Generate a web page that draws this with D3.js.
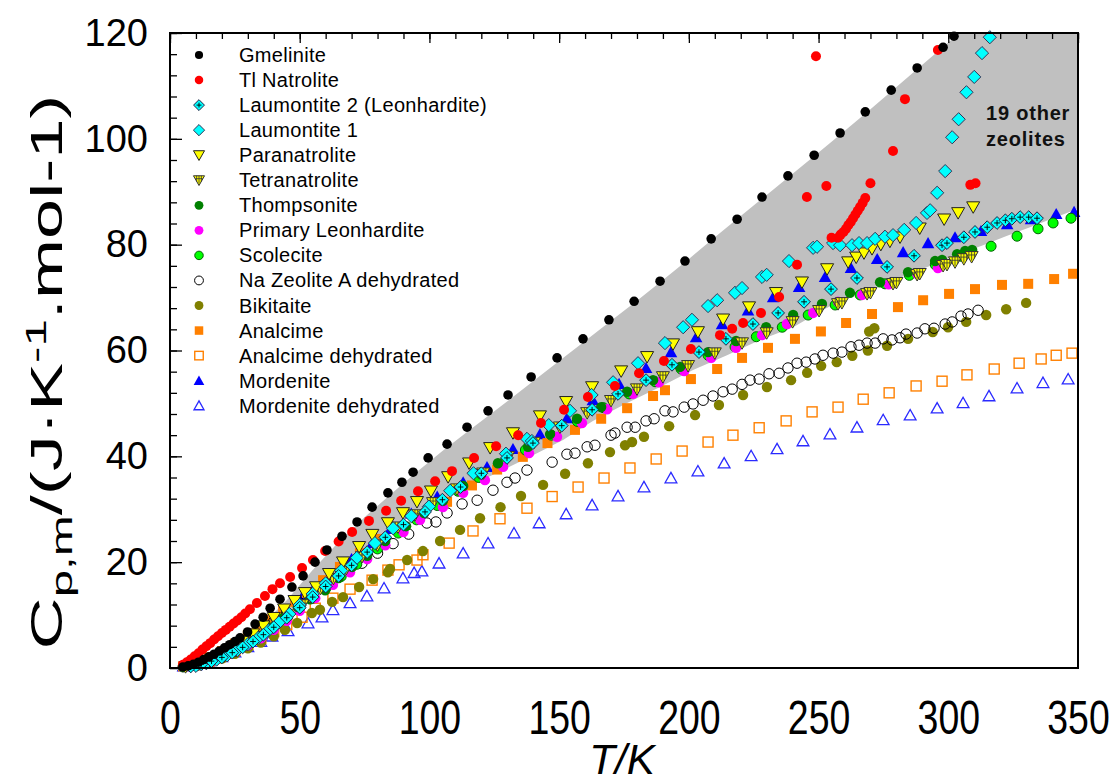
<!DOCTYPE html>
<html>
<head>
<meta charset="utf-8">
<script src="https://cdn.jsdelivr.net/npm/d3@7"></script>
<style>
  body { margin: 0; background: #fff; }
  svg { display: block; font-family: Arial, "Liberation Sans", sans-serif; }
</style>
</head>
<body>
<svg></svg>
<script>
const width = 1119;
const height = 783;
const margin = { top: 33, right: 41, bottom: 115, left: 170 };

// Datos: [T/K, Cp]
const gmelinite = [[5,0.2],[7,0.4],[9,0.7],[11,1.1],[13,1.6],[15,2.1],[17,2.6],[19,3.2],[21,3.8],[23,4.4],[25,5.0],[27,5.7],[29.9,6.8],[32.8,8.3],[35.9,9.6],[38.6,11.3],[42.4,13],[47,15.3],[51.3,17.4],[55.9,20],[60.5,22.3],[66.3,24.9],[72.1,27.6],[77.9,30.4],[84,33.1],[89.4,35.1],[93.7,37],[99.5,39.7],[106.8,42.3],[114.5,45.5],[122.6,48.6],[130.3,51.6],[139.2,55],[149.2,58.6],[159.2,62.2],[169.2,65.8],[178.9,69.3],[188.9,73.1],[198.5,76.9],[208.6,81.1],[218.6,84.8],[228.2,89],[238.2,93],[248.3,96.9],[258.3,101.1],[268,105.1],[278,109.2],[288,113.4],[298,117.3],[302.2,119.4]];
const tlNatrolite = [[5,0.6],[6.5,1.1],[8,1.6],[9.5,2.2],[11,2.8],[12.5,3.5],[14,4.1],[15.5,4.7],[17,5.4],[18.5,6.0],[20,6.6],[21.5,7.2],[23,7.8],[24.5,8.4],[26,9.0],[27.5,9.6],[29,10.3],[30.8,11.1],[33.5,12.3],[36.6,13.6],[39.5,14.9],[42.4,16],[46.3,17.2],[50.9,18.9],[55.1,20.4],[59.8,22.1],[65,23.9],[70.2,25.7],[76.7,27.8],[83.3,29.7],[89.1,31.6],[95.6,33.4],[102.2,35.3],[108.7,37.2],[117.2,39.7],[125.7,41.9],[134.2,44],[143,46.3],[151.9,48.8],[161.1,51.2],[171.5,53.3],[180.8,55.7],[190.4,58],[200.8,60.3],[212,62.9],[216.7,64.1],[220.9,65.2],[227.8,67.1],[234.8,70.1],[241.7,76.2],[245.5,89],[249,115.6],[253,91.1],[255,81.3],[257.5,81.3],[258.5,81.9],[259.6,82.4],[260.6,83],[261.5,83.7],[262.4,84.3],[263.3,85],[264.2,85.7],[265.1,86.4],[266,87.1],[267,87.9],[268,88.8],[270,91.6],[278.7,97.7],[283.3,107.5],[296,116.8],[308.5,91.3],[310.5,91.6]];
const laumontite2 = [[8,0.3],[12,0.7],[16,1.3],[20,2.0],[24,2.9],[28,3.9],[32,5.0],[36,6.3],[40,7.7],[45,9.5],[50,11.4],[55,13.4],[60,15.4],[65,17.4],[70,19.4],[76,21.9],[83,24.7],[90,27.1],[98.3,29.5],[105,31.8],[112,34.2],[120,36.8],[129.9,39.7],[139.9,42.5],[151,45.8],[162.7,48.8],[172.7,51.8],[183.5,54.4],[193.5,57.3],[203.9,59.7],[214.3,62.2],[224.7,65],[234.4,67.1],[244.4,69.2],[254.8,71.6],[264.8,73.7],[276.4,75.8],[286.8,77.9],[297.6,79.9],[299.5,80.3],[306,81.4],[310.3,82.4],[315,83.3],[318.8,84.1],[322,84.6],[324.5,84.9],[327.7,85.2],[331,85.2],[334.2,85]];
const laumontite1 = [[10,0.4],[14,0.9],[18,1.6],[22,2.4],[26,3.4],[30,4.5],[34,5.7],[38,7.1],[42,8.6],[46,10.2],[50,11.9],[55,14],[60,16],[66,18.4],[72,20.8],[79,23.6],[86,26.4],[93,28.7],[99.8,30.5],[108,33.5],[117,36.8],[129.5,40.5],[137.6,43.3],[139.5,42.9],[146,45.9],[154.2,48.6],[162.5,51.6],[170.8,54],[180.4,57.6],[190.8,61.4],[197.8,64.4],[201.2,65.8],[207.4,68.4],[210.9,69.5],[217.8,70.9],[220.5,71.8],[228.2,73.9],[230,74.3],[238.6,76.9],[247.9,79.4],[249.4,79.6],[255.6,80.3],[258.3,79.9],[262.9,79.9],[265.6,80.3],[268.7,80.3],[271.8,81.1],[275.6,81.5],[278.7,81.8],[283,82.8],[287.6,84.1],[291.8,86],[293,86.5],[295.7,89.8],[298.8,93.9],[301.5,100.3],[304,103.7],[307,108.8],[310,111.7],[313,116.2],[316,119.2]];
const paranatrolite = [[8,0.4],[12,0.9],[16,1.6],[20,2.6],[24,3.7],[28,5.0],[32,6.4],[36,7.9],[40,9.5],[44,11.1],[48,12.7],[52,14.2],[56.3,15.3],[61.3,17.8],[66.7,20],[72.9,22.9],[78,25.2],[84,27.4],[89.8,29.3],[95.2,31.4],[100.6,33.4],[107.2,36.1],[115.3,38.7],[123.4,41.6],[132.2,44.4],[142.6,47.6],[152.7,50.3],[162.7,53.1],[173.9,56.1],[183.9,58.8],[193.9,61.2],[203.5,63.5],[213.2,65.9],[223.2,68.2],[233.6,70.9],[243.6,72.9],[253.3,75.4],[261.4,76.7],[264.5,77.6],[267.5,78.4],[270.6,79.2],[274,80],[277.5,80.6],[281.4,81.4],[289,83.1],[298.4,84.8],[303.8,86],[309.6,87.1]];
const tetranatrolite = [[6,0.2],[8,0.35],[10,0.55],[12,0.8],[14,1.1],[16,1.5],[18,1.9],[20,2.4],[22,2.8],[24,3.3],[26,3.8],[28,4.3],[29.7,4.8],[33.5,5.8],[37.3,7],[41.2,8.4],[45.6,10],[51,11.9],[54,13.4],[58,15],[63,16.9],[68,18.8],[74,21],[80,23.2],[87.9,26.6],[94.4,28.9],[101.4,31.2],[110.6,33.8],[120.7,36.8],[130.3,39.9],[140.3,42.6],[150.3,45.5],[160.8,48.2],[170,50.5],[180,52.7],[190,55],[199.7,57.1],[210,59.5],[220.5,61.4],[230,63.3],[240,65.4],[250.2,67.5],[257.5,68.8],[259,69],[268.7,70.7],[270,70.9],[278.7,72.6],[280,72.8],[288,74.3],[289,74.5],[298,76],[299.5,76.2],[302.6,76.7],[306,77.3],[309,77.7]];
const thompsonite = [[5,0.2],[10,0.7],[15,1.5],[20,2.5],[25,3.6],[30,4.8],[33.9,5.9],[38.6,7.6],[43.6,9.4],[49.3,11.5],[54,13],[59.8,14.7],[65,17],[70.2,19.1],[76,21.2],[83,24],[91,26.8],[98,29.3],[105.2,31.6],[113,34.4],[120,36.6],[126.4,38.7],[138,41.8],[146.5,44.2],[156.9,47.1],[166.2,49.3],[176.2,52.2],[186.2,54.4],[196.6,56.9],[207.4,59.7],[218.2,61.8],[229.8,64.4],[240.2,66.7],[251.3,68.8],[262.1,70.9],[273.7,72.9],[284.5,74.8],[294.9,76.9],[297.6,77.1],[303.4,78.2],[306.5,78.8],[309.2,79]];
const primaryLeonhardite = [[5,0.2],[10,0.6],[15,1.3],[20,2.2],[25,3.2],[30,4.3],[35,5.6],[40,7.2],[45,8.9],[50,10.8],[56,13.2],[62.8,15.7],[69.4,18.1],[76,20.6],[83,23.2],[90,25.7],[96.4,28],[105.2,30.4],[113,33.1],[121.4,35.5],[128.4,38],[138.4,40.6],[149.2,43.7],[158.8,46.3],[168.5,48.9],[178.5,51.8],[188.5,54],[198.2,56.1],[208.6,58.6],[218.2,60.5],[228.2,62.9],[237.8,65],[247.9,67.1],[257.5,69.2],[266.8,70.5],[277,72.5],[288,74.5],[296,75.6]];
const scolecite = [[5,0.2],[10,0.6],[15,1.4],[20,2.4],[25,3.5],[30,4.6],[35,6],[40,7.7],[45,9.5],[50,11.3],[55,13.2],[60,15],[66,17.3],[72,19.6],[80,22.5],[88,25.5],[95,28],[103,30.7],[111,33.4],[119,36],[128,38.6],[137,41.2],[147,44],[157,46.6],[167,49.2],[177,51.8],[187,54.1],[197,56.5],[207.4,59.1],[217.8,60.7],[226,62.6],[236,64.4],[246,66.7],[256.4,68.6],[266,70.5],[275.6,72.6],[285,74.2],[295,76.2],[305,77.8],[316.5,79.7],[326.5,81.6],[334.6,83],[340.4,84.1],[347.3,85]];
const naZeoliteA = [[10,0.5],[15,1.2],[20,2.1],[25,3.2],[30,4.4],[35,5.9],[40,8.8],[45,10.5],[50,12.3],[55,14.1],[60,15.9],[66,17.9],[74,19.8],[80,21.7],[86,23.5],[92,25.3],[99,27.4],[102.5,27.6],[106.8,29.3],[112.6,31],[118.4,31.7],[124.5,33.6],[129.9,35.1],[133,35.9],[137.6,37.4],[147.3,38.9],[153,40.4],[156.1,40.6],[160.8,41.8],[163.8,42.1],[170,44],[171.5,44.4],[176.2,45.5],[179.3,45.5],[183.5,46.7],[186.6,47.1],[190.8,48.6],[193.9,48.4],[198.2,49.3],[201.6,49.9],[205.5,50.6],[209.3,51.4],[213.2,52.2],[216.7,52.7],[220.5,53.6],[223.6,54.4],[227.1,54.6],[230.9,55.6],[234.8,55.7],[238.2,56.7],[241.7,57.6],[245.2,57.8],[248.6,58.4],[251.7,59.1],[255.6,59.5],[259,59.7],[262.5,60.7],[265.6,61],[268.7,61.4],[271.8,61.4],[274.9,62.2],[278.3,62],[281.4,62.4],[283.7,63.1],[288,63.3],[291,64.1],[294.5,64.2],[298.8,65],[301.5,65.4],[304.9,66.5],[307.6,66.9],[311.5,67.6]];
const bikitaite = [[10,0.4],[15,1],[20,1.8],[25,2.7],[30,3.7],[35,4.8],[40,6],[44.3,7.2],[49,8.5],[54.7,10.4],[57.8,11],[62.5,12.5],[66.7,13.4],[72.9,15.3],[78.3,16.8],[84,18.1],[84.8,18.7],[91.4,20.4],[97.5,22.1],[104.1,24],[111.8,26.1],[119.5,28.3],[127.4,30.4],[135.3,32.5],[143.8,34.6],[152.3,36.7],[161.1,38.7],[169.6,40.8],[175.4,42.1],[178.1,42.7],[182.7,43.7],[192.4,45.7],[202.4,47.8],[211.6,49.7],[220.9,51.6],[230.1,53.1],[239.4,54.4],[245.6,55.8],[251,57.1],[257,57.8],[263,59],[269.5,63.6],[271.5,64.2],[269,60],[276.4,60.9],[284.5,62.2],[294,63.5],[299.9,64.4],[306.9,65.4],[314.6,66.7],[322.3,67.8],[330,69]];
const analcime = [[5,0.3],[10,1],[15,2],[20,3.2],[25,4.6],[30,6.2],[33.5,7.4],[38,9.2],[43.6,11],[48.2,12.5],[52.8,14.2],[59,16.6],[65.5,19.1],[73.2,21.7],[80.2,24.4],[87,26.5],[95,28.8],[106.8,31.4],[116.4,34.5],[126.1,37.5],[136,39.9],[145.5,42.5],[156.1,45],[166.2,47.1],[176.2,49.1],[186.2,51.4],[190.8,52.5],[200.8,54.6],[210.9,56.5],[220.5,58.6],[230.5,60.5],[240.9,62.2],[250.9,63.6],[260.6,65.2],[270.6,66.9],[280.6,68.2],[290.3,69.5],[300.3,70.7],[310.3,71.6],[320.7,72.4],[330.8,72.6],[340.8,73.5],[348.1,74.5]];
const analcimeDehydrated = [[10,0.6],[15,1.3],[20,2.2],[25,3.3],[30,4.4],[35,5.6],[40,6.9],[45,8.2],[50.9,9.6],[56,11.3],[62.8,13.2],[69.4,14.9],[77.9,16.6],[84,18.5],[88.3,19.5],[95.2,20.4],[97.5,21.4],[107.6,23.6],[116.8,25.9],[127.2,28.2],[137.6,30.2],[147.3,32.4],[157.3,34.2],[167.3,35.9],[177.3,37.8],[187.4,39.5],[197.4,41],[207.4,42.7],[217,44],[227.1,45.4],[237.5,46.7],[247.5,48.4],[257.5,49.3],[267.2,50.8],[277.2,52],[287.6,53.3],[297.6,54.2],[307.2,55.4],[317.7,56.5],[327.3,57.6],[335.8,58.4],[341.6,59.1],[347.7,59.5]];
const mordenite = [[5,0.3],[10,0.9],[15,1.8],[20,2.9],[25,4.1],[30,5.4],[35,6.9],[40,8.5],[45,10.2],[50.9,13.4],[55,14.7],[62,17.6],[70,20.6],[78,23.6],[85,26.3],[93,29.2],[103,32.4],[113,35.1],[122.2,38],[132.2,41.4],[142.6,44.2],[153,47.2],[163,50.6],[173.1,53.7],[183.5,56.7],[193.1,59.7],[202.8,62.5],[212.8,65],[222.8,67.6],[232.5,70.1],[242.5,72],[252.5,73.9],[262.5,75.6],[272.6,77.3],[282.6,78.6],[292.2,80.3],[302.6,81.4],[312.6,82.6],[322.7,83.9],[331.9,84.8],[341.6,85.8],[348.5,86.2]];
const mordeniteDehydrated = [[10,0.6],[15,1.3],[20,2.1],[25,3],[30,4],[35,5],[39.3,6],[45.5,7],[53.2,8.5],[58.6,9.6],[62.8,11],[69.4,12.3],[75.9,13.6],[82.5,15.1],[89.8,17],[94.1,18],[97.1,18.3],[103.7,19.8],[113,21.7],[122.6,23.6],[132.6,25.5],[142.3,27.4],[152.7,29.1],[162.7,30.8],[172.7,32.5],[182.7,34.2],[193.1,35.9],[203.5,37.2],[213.6,38.7],[224,40.1],[234,41.4],[244,42.9],[254.4,44.2],[264.8,45.5],[274.9,46.9],[285.3,47.8],[295.7,49.1],[305.7,50.1],[315.7,51.4],[326.5,52.9],[336.5,53.9],[346.2,54.6]];

// Banda gris "19 other zeolites"
const bandUpper = [[32,6.5],[45,12.8],[55,18.5],[65,23.8],[75,28.5],[85,32.8],[95,37],[105,41],[115,44.8],[125,48.5],[135,52.3],[150,58],[160,61.8],[170,65.6],[180,69.4],[190,73.3],[200,77.3],[210,81.4],[220,85.4],[230,89.4],[240,93.4],[250,97.4],[260,101.5],[270,105.6],[280,109.8],[290,114],[300,118.2],[304.5,120]];
const bandLower = [[32,6.5],[45,10.2],[60,15.8],[77,23.2],[87.5,27.2],[100.2,30.6],[113,33.8],[126.1,36.9],[138.8,39.9],[151.5,43.1],[163,46.7],[176.2,50.1],[188.9,53.1],[201.6,56.3],[214.7,59.1],[227.4,62],[240.2,64.4],[250,67.2],[258.3,69.4],[267.2,71.2],[276.4,72.8],[285.3,74.5],[294.1,76.2],[304.6,78.3],[313.4,79.9],[322.7,81.7],[331.5,83.3],[340.4,85],[350,86.8]];

const seriesNames = ["Gmelinite","Tl Natrolite","Laumontite 2 (Leonhardite)","Laumontite 1","Paranatrolite","Tetranatrolite","Thompsonite","Primary Leonhardite","Scolecite","Na Zeolite A dehydrated","Bikitaite","Analcime","Analcime dehydrated","Mordenite","Mordenite dehydrated"];
const seriesData = [gmelinite, tlNatrolite, laumontite2, laumontite1, paranatrolite, tetranatrolite, thompsonite, primaryLeonhardite, scolecite, naZeoliteA, bikitaite, analcime, analcimeDehydrated, mordenite, mordeniteDehydrated];

const xTicks = [0, 50, 100, 150, 200, 250, 300, 350];
const yTicks = [0, 20, 40, 60, 80, 100, 120];

// estilo de marcador por serie
const markerStyle = [
  { shape: "circle", r: 4.8, fill: "#000" },
  { shape: "circle", r: 5, fill: "#ff0000" },
  { shape: "diamondPlus", r: 6.4, fill: "#00ffff", stroke: "#224" },
  { shape: "diamond", r: 6.6, fill: "#00ffff", stroke: "#335" },
  { shape: "triDown", r: 6.2, fill: "#ffff00", stroke: "#222" },
  { shape: "triDownHatch", r: 6.2, fill: "#ffff00", stroke: "#333" },
  { shape: "circle", r: 5.2, fill: "#008000" },
  { shape: "circle", r: 5.2, fill: "#ff00ff" },
  { shape: "circle", r: 5, fill: "#00ff00", stroke: "#006400" },
  { shape: "circle", r: 5.2, fill: "none", stroke: "#000" },
  { shape: "circle", r: 5.2, fill: "#808000" },
  { shape: "square", r: 5, fill: "#ff8000" },
  { shape: "square", r: 5, fill: "none", stroke: "#ff8000", sw: 1.4 },
  { shape: "triUp", r: 6, fill: "#0000ff" },
  { shape: "triUp", r: 5.6, fill: "none", stroke: "#2a2aff", sw: 1.3 }
];

const svg = d3.select("svg").attr("width", width).attr("height", height);

const x = d3.scaleLinear().domain([0, 350]).range([margin.left, width - margin.right]);
const y = d3.scaleLinear().domain([0, 120]).range([height - margin.bottom, margin.top]);

svg.append("defs").append("clipPath").attr("id", "plotClip")
  .append("rect")
  .attr("x", x(0)).attr("y", y(120))
  .attr("width", x(350) - x(0)).attr("height", y(0) - y(120));

// banda gris
const bandPoly = bandUpper.concat([[350, 120]], bandLower.slice().reverse());
svg.append("path")
  .attr("clip-path", "url(#plotClip)")
  .attr("d", d3.line().x(d => x(d[0])).y(d => y(d[1]))(bandPoly) + "Z")
  .attr("fill", "#c0c0c0");

svg.append("text")
  .attr("x", 986).attr("y", 120)
  .attr("font-size", 20).attr("font-weight", "bold").attr("letter-spacing", 0.8)
  .attr("fill", "#111")
  .text("19 other");
svg.append("text")
  .attr("x", 986).attr("y", 146)
  .attr("font-size", 20).attr("font-weight", "bold").attr("letter-spacing", 0.8)
  .attr("fill", "#111")
  .text("zeolites");

function drawMarker(g, st, k) {
  const r = st.r * k;
  let p;
  if (st.shape === "circle") {
    p = g.append("circle").attr("r", r);
  } else if (st.shape === "square") {
    p = g.append("rect").attr("x", -r).attr("y", -r).attr("width", 2 * r).attr("height", 2 * r);
  } else if (st.shape === "diamond" || st.shape === "diamondPlus") {
    p = g.append("path").attr("d", `M0,${-r}L${r},0L0,${r}L${-r},0Z`);
  } else if (st.shape === "triUp") {
    p = g.append("path").attr("d", `M0,${-r}L${r * 1.05},${r * 0.85}L${-r * 1.05},${r * 0.85}Z`);
  } else {
    p = g.append("path").attr("d", `M0,${r}L${r * 1.05},${-r * 0.85}L${-r * 1.05},${-r * 0.85}Z`);
  }
  p.attr("fill", st.fill)
    .attr("stroke", st.stroke || "none")
    .attr("stroke-width", st.sw || 1);
  if (st.shape === "diamondPlus") {
    const a = r * 0.45;
    g.append("path").attr("d", `M${-a},0H${a}M0,${-a}V${a}`)
      .attr("stroke", "#000").attr("stroke-width", 0.9);
  }
  if (st.shape === "triDownHatch") {
    const h = -r * 0.85;
    g.append("path")
      .attr("d", `M${-r * 0.7},${h + r * 0.55}H${r * 0.7}M0,${h}V${r * 0.6}M${-r * 0.45},${h}V${h + r * 1.1}M${r * 0.45},${h}V${h + r * 1.1}`)
      .attr("stroke", "#333").attr("stroke-width", 0.8);
  }
}

// puntos: la primera serie de la leyenda queda encima
const points = svg.append("g");
for (let i = seriesData.length - 1; i >= 0; i--) {
  const grp = points.append("g");
  seriesData[i].forEach(d => {
    const m = grp.append("g").attr("transform", `translate(${x(d[0])},${y(d[1])})`);
    drawMarker(m, markerStyle[i], 1);
  });
}

// marco
svg.append("rect")
  .attr("x", x(0)).attr("y", y(120))
  .attr("width", x(350) - x(0)).attr("height", y(0) - y(120))
  .attr("fill", "none").attr("stroke", "#000").attr("stroke-width", 2);

// Eje Y (ticks hacia dentro)
svg.append("g")
  .attr("transform", `translate(${x(0)},0)`)
  .call(d3.axisLeft(y).tickValues(d3.range(0, 121, 4)).tickSize(-7).tickFormat(""))
  .call(g => g.select(".domain").remove())
  .call(g => g.selectAll("line").attr("stroke-width", 1.3));
svg.append("g")
  .attr("transform", `translate(${x(0)},0)`)
  .call(d3.axisLeft(y).tickValues(yTicks).tickSize(-12).tickPadding(22))
  .call(g => g.select(".domain").remove())
  .call(g => g.selectAll("line").attr("stroke-width", 1.3))
  .call(g => g.selectAll("text")
    .attr("font-size", 38).attr("fill", "#000")
    .attr("font-family", "Arial, 'Liberation Sans', sans-serif"));

// Eje X superior (solo ticks)
svg.append("g")
  .attr("transform", `translate(0,${y(120)})`)
  .call(d3.axisTop(x).tickValues(d3.range(0, 351, 10)).tickSize(-6).tickFormat(""))
  .call(g => g.select(".domain").remove())
  .call(g => g.selectAll("line").attr("stroke-width", 1.3));
svg.append("g")
  .attr("transform", `translate(0,${y(120)})`)
  .call(d3.axisTop(x).tickValues(xTicks).tickSize(-10).tickFormat(""))
  .call(g => g.select(".domain").remove())
  .call(g => g.selectAll("line").attr("stroke-width", 1.3));

// Eje X inferior (solo etiquetas)
svg.append("g")
  .attr("transform", `translate(0,${y(0)})`)
  .call(d3.axisBottom(x).tickValues(xTicks).tickSize(0).tickPadding(0).tickFormat(d3.format("d")))
  .call(g => g.select(".domain").remove())
  .call(g => g.selectAll("text")
    .attr("dy", null).attr("y", 66)
    .attr("font-size", 48).attr("fill", "#000")
    .attr("font-family", "Arial, 'Liberation Sans', sans-serif")
    .attr("transform", "scale(0.78,1)"));

// Titulo eje X
svg.append("text")
  .attr("transform", `translate(622,774) scale(0.98,1)`)
  .attr("text-anchor", "middle")
  .attr("font-size", 43).attr("font-style", "italic")
  .text("T/K");

// Titulo eje Y
const yTitle = svg.append("text")
  .attr("text-anchor", "middle")
  .attr("font-size", 44);
yTitle.append("tspan").text("C");
yTitle.append("tspan").attr("font-size", 30).attr("dy", 10).text("p,m");
yTitle.append("tspan").attr("dy", -10).text("/(J\u00b7K");
yTitle.append("tspan").attr("font-size", 30).attr("dy", -16).text("-1");
yTitle.append("tspan").attr("dy", 16).text(".mol-1)");
const yLen = yTitle.node().getBBox().width;
yTitle.attr("transform", `translate(62,372) rotate(-90) scale(${555 / yLen},1)`);

// Leyenda
const legend = svg.append("g");
seriesNames.forEach((name, i) => {
  const ry = 55 + i * 25.05;
  const m = legend.append("g").attr("transform", `translate(199,${ry})`);
  drawMarker(m, markerStyle[i], 0.85);
  legend.append("text")
    .attr("x", 239).attr("y", ry + 7)
    .attr("font-size", 20).attr("letter-spacing", 0.3).attr("fill", "#000")
    .text(name);
});
</script>
</body>
</html>
